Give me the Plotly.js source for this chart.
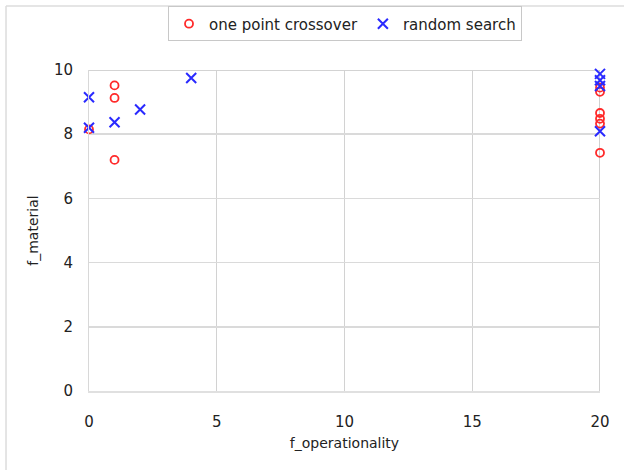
<!DOCTYPE html>
<html>
<head>
<meta charset="utf-8">
<script src="https://cdn.plot.ly/plotly-3.0.1.min.js"></script>
<style>html,body{margin:0;padding:0;background:#fff}#chart{width:624px;height:470px}</style>
</head>
<body>
<div id="chart"></div>
<script>
var seriesNames = ["one point crossover", "random search"];
var crossoverX = [0, 1, 1, 1, 20, 20, 20, 20, 20, 20];
var crossoverY = [8.15, 9.52, 9.13, 7.2, 9.45, 9.32, 8.66, 8.48, 8.33, 7.42];
var randomX = [0, 0, 1, 2, 4, 20, 20, 20, 20];
var randomY = [9.15, 8.2, 8.37, 8.77, 9.75, 9.88, 9.68, 9.5, 8.09];
var xTicks = [0, 5, 10, 15, 20];
var yTicks = [0, 2, 4, 6, 8, 10];
var xTitle = "f_operationality";
var yTitle = "f_material";

var fontFam = "DejaVu Sans, sans-serif";
var traces = [
  {x: crossoverX, y: crossoverY, name: seriesNames[0], type: "scatter", mode: "markers", cliponaxis: false,
   marker: {symbol: "circle-open", size: 8, color: "#ff2a2a", line: {color: "#ff2a2a", width: 1.8}}},
  {x: randomX, y: randomY, name: seriesNames[1], type: "scatter", mode: "markers", cliponaxis: false,
   marker: {symbol: "x-thin", size: 10, color: "#2a2aff", line: {color: "#2a2aff", width: 2}}}
];
var layout = {
  width: 624, height: 470,
  margin: {l: 89, r: 24, t: 70, b: 79, autoexpand: false},
  paper_bgcolor: "#fff", plot_bgcolor: "#fff",
  showlegend: true,
  legend: {orientation: "h", x: 0.501, xanchor: "center", xref: "paper", y: 0.949, yref: "container", yanchor: "middle",
           bordercolor: "#c8c8c8", borderwidth: 1, bgcolor: "#fff",
           font: {family: fontFam, size: 15, color: "#222"}, itemwidth: 30, tracegroupgap: 0},
  xaxis: {range: [0, 20], tickvals: xTicks, ticks: "", showgrid: true, gridcolor: "#d2d2d2", gridwidth: 1,
          zeroline: false, showline: true, linecolor: "#e0e0e0", linewidth: 2, mirror: false,
          tickfont: {family: fontFam, size: 15, color: "#222"}, ticklabelstandoff: 16,
          title: {text: xTitle, font: {family: fontFam, size: 14, color: "#222"}, standoff: 8}},
  yaxis: {range: [0, 10], tickvals: yTicks, ticks: "", showgrid: true, gridcolor: "#dadada", gridwidth: 1.5,
          zeroline: false, showline: true, linecolor: "#d8d8d8", linewidth: 1,
          tickfont: {family: fontFam, size: 15, color: "#222"}, ticklabelstandoff: 12,
          title: {text: yTitle, font: {family: fontFam, size: 14, color: "#222"}, standoff: 12}},
  shapes: [
    {type: "line", xref: "paper", yref: "paper", x0: -0.1624, x1: -0.1624, y0: -0.3, y1: 1.199, line: {color: "#dcdcdc", width: 1.5}},
    {type: "line", xref: "paper", yref: "paper", x0: -0.1624, x1: 1.2, y0: 1.199, y1: 1.199, line: {color: "#dcdcdc", width: 1.5}},
    {type: "line", xref: "paper", yref: "y", x0: 0, x1: 1, y0: 8, y1: 8, layer: "below", line: {color: "#aaaaaa", width: 1.5}},
    {type: "line", xref: "paper", yref: "y", x0: 0, x1: 1, y0: 2, y1: 2, layer: "below", line: {color: "#b4b4b4", width: 1}},
    {type: "line", xref: "x", yref: "paper", x0: 20, x1: 20, y0: 0, y1: 1, layer: "below", line: {color: "#c0c0c0", width: 1.5}},
    {type: "line", xref: "paper", yref: "y", x0: 0, x1: 1, y0: 10, y1: 10, layer: "below", line: {color: "#c4c4c4", width: 1.5}}
  ]
};
Plotly.newPlot("chart", traces, layout, {displayModeBar: false, staticPlot: true});
</script>
</body>
</html>
